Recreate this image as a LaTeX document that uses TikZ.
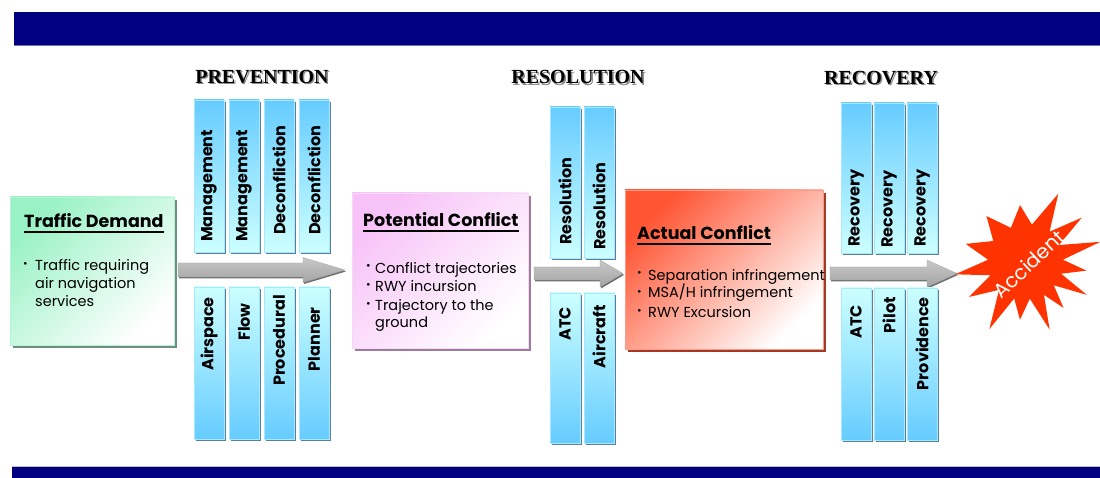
\documentclass[tikz,border=0pt]{standalone}
\usepackage{fontspec}
\setmainfont{Poppins}
\newfontfamily\headfont{Liberation Serif}
\usetikzlibrary{shadows}
\definecolor{navy}{HTML}{000080}
\definecolor{barDeep}{HTML}{66CCFF}
\definecolor{barLight}{HTML}{CCFFFF}
\definecolor{barEdge}{HTML}{A8E8FF}
\definecolor{barShadow}{HTML}{5A7F99}
\definecolor{tdGreen}{HTML}{99F2C4}
\definecolor{tdEdge}{HTML}{B8F5D8}
\definecolor{tdShadow}{HTML}{6E8F7E}
\definecolor{pcPink}{HTML}{F7C2F7}
\definecolor{pcEdge}{HTML}{F5D8F5}
\definecolor{pcShadow}{HTML}{9C7E9C}
\definecolor{acRed}{HTML}{FF5533}
\definecolor{acEdge}{HTML}{FF9A88}
\definecolor{acShadow}{HTML}{A33A26}
\definecolor{accRed}{HTML}{FF3300}
\definecolor{arrTop}{HTML}{C8C8C8}
\definecolor{arrBot}{HTML}{A4A4A4}
\definecolor{arrShadow}{HTML}{707070}
\tikzset{
  upbar/.style={top color=barDeep, bottom color=barLight, draw=barEdge, line width=0.6pt},
  lowbar/.style={top color=barLight, bottom color=barDeep, draw=barEdge, line width=0.6pt},
  barshadow/.style={fill=barShadow},
  bartext/.style={font=\fontsize{16}{18}\selectfont\bfseries, inner sep=0pt, rotate=90},
  headtxt/.style={font=\headfont\fontsize{20}{22}\selectfont\bfseries, inner sep=0pt},
  headshadow/.style={headtxt, text=black!45},
  boxbase/.style={minimum width=#1, inner sep=0pt, line width=0.8pt},
  tdbox/.style={boxbase=164pt, minimum height=148pt, top color=tdGreen, bottom color=white, shading angle=45, draw=tdEdge,
     drop shadow={shadow xshift=3pt, shadow yshift=-3pt, fill=tdShadow, opacity=1}},
  pcbox/.style={boxbase=176pt, minimum height=155pt, top color=pcPink, bottom color=white, shading angle=45, draw=pcEdge,
     drop shadow={shadow xshift=3pt, shadow yshift=-3pt, fill=pcShadow, opacity=1}},
  acbox/.style={boxbase=198pt, minimum height=159pt, top color=acRed, bottom color=white, shading angle=45, draw=acEdge,
     drop shadow={shadow xshift=3pt, shadow yshift=-3pt, fill=acShadow, opacity=1}},
  boxtitle/.style={font=\fontsize{17.5}{20}\selectfont\bfseries, inner sep=0pt, anchor=base west},
  bodytxt/.style={font=\fontsize{14.5}{17}\selectfont, inner sep=0pt, anchor=base west},
  bul/.style={font=\fontsize{11}{12}\selectfont, inner sep=0pt, anchor=base west},
  uline/.style={line width=1.3pt},
  arrowshade/.style={top color=arrTop, bottom color=arrBot, draw=arrBot, line width=0.3pt,
     drop shadow={shadow xshift=1pt, shadow yshift=-1.5pt, fill=arrShadow, opacity=1}},
  acctxt/.style={font=\fontsize{20}{22}\selectfont, text=white, inner sep=0pt, rotate=43},
}
\newcommand\upperbar[3]{\fill[barshadow] (#1+2,#2+2) rectangle (#1+32,#3+2); \path[upbar] (#1,#2) rectangle (#1+30,#3);}
\newcommand\lowerbar[3]{\fill[barshadow] (#1+2,#2+2) rectangle (#1+32,#3+2); \path[lowbar] (#1,#2) rectangle (#1+30,#3);}
\newcommand\blockarrow[6]{\path[arrowshade] (#1,#4-#5) -- (#2,#4-#5) -- (#2,#4-#6) -- (#3,#4) -- (#2,#4+#6) -- (#2,#4+#5) -- (#1,#4+#5) -- cycle;}
\begin{document}
\begin{tikzpicture}[x=1pt,y=-1pt]
\useasboundingbox (0,0) rectangle (1100,478);
\fill[white] (0,0) rectangle (1100,478);
% frame bars
\fill[navy] (14,12) rectangle (1100,45);
\draw[color=navy!55!white, line width=0.8pt] (14,45) -- (1100,45);
\fill[navy] (12,467) rectangle (1100,478);
\draw[color=black!25, line width=0.8pt] (12,466.5) -- (1100,466.5);

% section titles
\node[headshadow] (prevS) at (263.5,78.5) {PREVENTION};
\node[headtxt] (prev) at (262,77) {PREVENTION};
\node[headshadow] (resS) at (579.5,78.5) {RESOLUTION};
\node[headtxt] (res) at (578,77) {RESOLUTION};
\node[headshadow] (recS) at (882.5,79.5) {RECOVERY};
\node[headtxt] (rec) at (881,78) {RECOVERY};

% arrows
\blockarrow{178}{303}{345}{270}{7}{12.5}
\blockarrow{534}{600}{623}{273.5}{6.5}{13.5}
\blockarrow{830}{927}{957}{273.5}{6.5}{13.5}

% prevention bars
\upperbar{194}{100}{252} \upperbar{229}{100}{252} \upperbar{264}{100}{252} \upperbar{299}{100}{252}
\lowerbar{194}{287}{439} \lowerbar{229}{287}{439} \lowerbar{264}{287}{439} \lowerbar{299}{287}{439}
\node[bartext, anchor=west] (pu1) at (209,242) {Management};
\node[bartext, anchor=west] (pu2) at (244,242) {Management};
\node[bartext, anchor=west] (pu3) at (279,235) {Deconfliction};
\node[bartext, anchor=west] (pu4) at (314,235) {Deconfliction};
\node[bartext, anchor=east] (pl1) at (209,297) {Airspace};
\node[bartext, anchor=east] (pl2) at (244,303) {Flow};
\node[bartext, anchor=east] (pl3) at (279,295) {Procedural};
\node[bartext, anchor=east] (pl4) at (314,307) {Planner};

% resolution bars
\upperbar{550}{107}{258} \upperbar{584}{107}{258}
\lowerbar{550}{293}{443} \lowerbar{584}{293}{443}
\node[bartext, anchor=west] (ru1) at (565,245) {Resolution};
\node[bartext, anchor=west] (ru2) at (599,250) {Resolution};
\node[bartext, anchor=east] (rl1) at (565,307) {ATC};
\node[bartext, anchor=east] (rl2) at (599,305) {Aircraft};

% recovery bars
\upperbar{841}{103}{253} \upperbar{874}{103}{253} \upperbar{907}{103}{253}
\lowerbar{841}{288}{440} \lowerbar{874}{288}{440} \lowerbar{907}{288}{440}
\node[bartext, anchor=west] (cu1) at (856,247) {Recovery};
\node[bartext, anchor=west] (cu2) at (889,248) {Recovery};
\node[bartext, anchor=west] (cu3) at (922,247) {Recovery};
\node[bartext, anchor=east] (cl1) at (856,305) {ATC};
\node[bartext, anchor=east] (cl2) at (889,297) {Pilot};
\node[bartext, anchor=east] (cl3) at (922,297) {Providence};

% Traffic Demand
\node[tdbox] (td) at (92,271) {};
\node[boxtitle] (tdT) at (24,228) {Traffic Demand};
\draw[uline] ([yshift=-4pt]tdT.base west) -- ([yshift=-4pt]tdT.base east);
\node[bul] (tdB1) at (23,268) {\textbullet};
\node[bodytxt] (tdL1) at (35,271) {Traffic requiring};
\node[bodytxt] (tdL2) at (35,288.5) {air navigation};
\node[bodytxt] (tdL3) at (35,306) {services};

% Potential Conflict
\node[pcbox] (pc) at (440,270.5) {};
\node[boxtitle] (pcT) at (363,227) {Potential Conflict};
\draw[uline] ([yshift=-4pt]pcT.base west) -- ([yshift=-4pt]pcT.base east);
\node[bul] (pcB1) at (366,270) {\textbullet};
\node[bodytxt] (pcL1) at (375,273) {Conflict trajectories};
\node[bul] (pcB2) at (366,288) {\textbullet};
\node[bodytxt] (pcL2) at (375,291) {RWY incursion};
\node[bul] (pcB3) at (366,307) {\textbullet};
\node[bodytxt] (pcL3) at (375,310) {Trajectory to the};
\node[bodytxt] (pcL4) at (375,327.5) {ground};

% Actual Conflict
\node[acbox] (ac) at (724,269.5) {};
\node[boxtitle] (acT) at (637,240) {Actual Conflict};
\draw[uline] ([yshift=-4pt]acT.base west) -- ([yshift=-4pt]acT.base east);
\node[bul] (acB1) at (637,277) {\textbullet};
\node[bodytxt] (acL1) at (648,280) {Separation infringement};
\node[bul] (acB2) at (637,295) {\textbullet};
\node[bodytxt] (acL2) at (648,298) {MSA/H infringement};
\node[bul] (acB3) at (637,314) {\textbullet};
\node[bodytxt] (acL3) at (648,317) {RWY Excursion};

% Accident star
\begin{scope}[shift={(1025,262)}, yscale=-1]
\fill[accRed] (190:71) -- (176.5:37) -- (163:62) -- (146.5:38) -- (130:60) -- (112.5:37) -- (95:57) -- (79.5:38)
  -- (64:76) -- (51:39) -- (38:72) -- (26.5:38) -- (15:78) -- (3.5:38) -- (-8:62) -- (-18:38) -- (-28:70)
  -- (-39:37) -- (-50:60) -- (-60:38) -- (-70:72) -- (-82.5:37) -- (-95:58) -- (-106.5:38) -- (-118:76)
  -- (-133:38) -- (-148:66) -- (-159:37) -- cycle;
\end{scope}
\node[acctxt] (acc) at (1029,264) {Accident};
\end{tikzpicture}
\end{document}
